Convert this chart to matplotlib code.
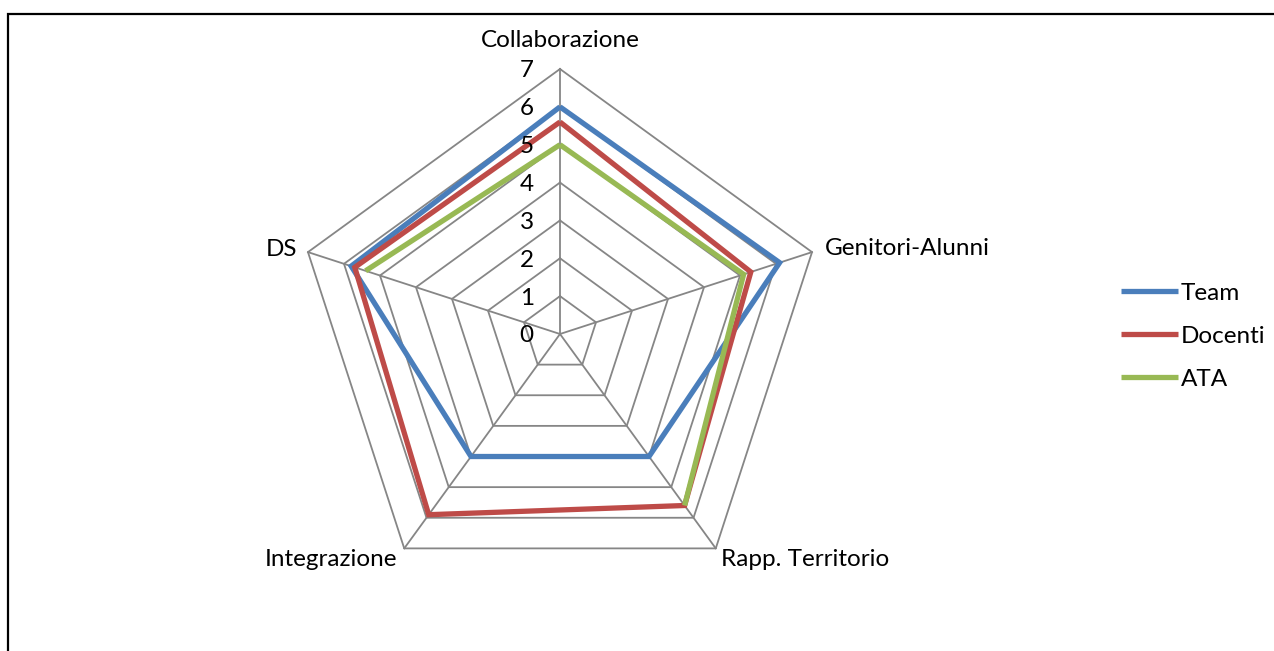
import numpy as np
import matplotlib
matplotlib.use("Agg")
import matplotlib.pyplot as plt
from matplotlib.patches import Rectangle

plt.rcParams['font.family'] = ['Lato', 'DejaVu Sans']

# Data
categories = ["Collaborazione", "Genitori-Alunni", "Rapp. Territorio", "Integrazione", "DS"]
team = [6.0, 6.1, 4.0, 4.0, 5.8]
docenti = [5.6, 5.3, 5.6, 5.9, 5.7]
ata = [5.0, 5.1, 5.6, np.nan, 5.4]
series_names = ["Team", "Docenti", "ATA"]
colors = ["#4A7EBB", "#BE4B48", "#98B954"]
levels = [1, 2, 3, 4, 5, 6, 7]

W, H = 1274, 651
cx, cy = 560, 334          # centre in pixels (from top-left)
unit = 265 / 7             # pixels per value unit

fig = plt.figure(figsize=(W / 100, H / 100), dpi=100)
ax = fig.add_axes([0, 0, 1, 1])
ax.set_xlim(-cx / unit, (W - cx) / unit)
ax.set_ylim(-(H - cy) / unit, cy / unit)
ax.axis("off")

n = len(categories)
angles = np.deg2rad(90 - 72 * np.arange(n))
ca, sa = np.cos(angles), np.sin(angles)

grid_c = "#868686"
# pentagon grid
for lv in levels:
    xs = np.append(lv * ca, lv * ca[0])
    ys = np.append(lv * sa, lv * sa[0])
    ax.plot(xs, ys, color=grid_c, lw=1.3, zorder=1)
# spokes
for i in range(n):
    ax.plot([0, 7 * ca[i]], [0, 7 * sa[i]], color=grid_c, lw=1.3, zorder=1)

fs = 17.5
# tick labels
for lv in [0] + levels:
    ax.text(-0.88, lv - 0.05, str(lv), ha="center", va="center", fontsize=fs, zorder=3)

# series
for vals, name, col in zip([team, docenti, ata], series_names, colors):
    v = np.array(vals + [vals[0]])
    xs = v * np.append(ca, ca[0])
    ys = v * np.append(sa, sa[0])
    ax.plot(xs, ys, color=col, lw=3.8, label=name, zorder=2,
            solid_joinstyle="miter", solid_capstyle="butt")

# category labels
ax.text(0, 7 + 0.75, categories[0], ha="center", va="center", fontsize=fs)
ax.text(7 * ca[1] + 0.33, 7 * sa[1] + 0.1, categories[1], ha="left", va="center", fontsize=fs)
ax.text(7 * ca[2] + 0.15, 7 * sa[2] - 0.3, categories[2], ha="left", va="center", fontsize=fs)
ax.text(7 * ca[3] - 0.18, 7 * sa[3] - 0.3, categories[3], ha="right", va="center", fontsize=fs)
ax.text(7 * ca[4] - 0.28, 7 * sa[4] + 0.08, categories[4], ha="right", va="center", fontsize=fs)

leg = ax.legend(loc="upper left", bbox_to_anchor=(1111 / W, 1 - 273 / H),
                bbox_transform=fig.transFigure, frameon=False, fontsize=fs,
                handlelength=2.35, handletextpad=0.12, labelspacing=0.9,
                borderaxespad=0)

# outer border
fig.add_artist(Rectangle((8 / W, -0.1), 1.2, 1.1 - 14 / H,
                         transform=fig.transFigure, fill=False,
                         edgecolor="black", lw=1.6))

fig.savefig("out.png", dpi=100)
